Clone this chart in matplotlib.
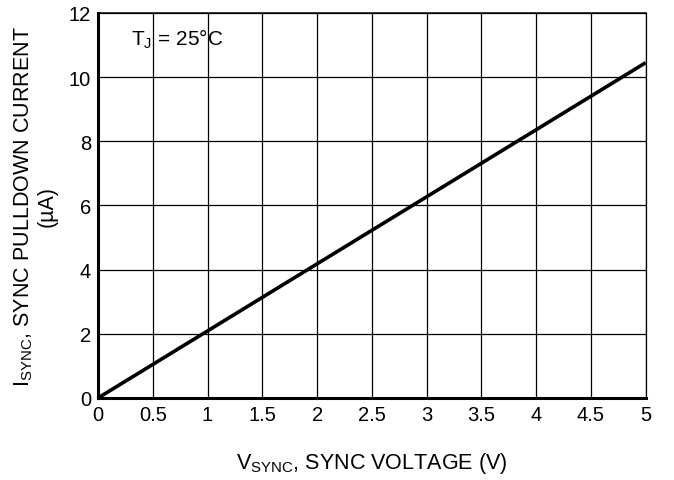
import numpy as np
import matplotlib.pyplot as plt

plt.rcParams['font.family'] = ['Liberation Sans', 'DejaVu Sans']

# sync voltage (V) vs pulldown current (uA), T_J = 25C
v_sync = [0, 1, 2, 3, 4, 5]
i_sync = [0, 2.09, 4.18, 6.27, 8.36, 10.45]

fig = plt.figure(figsize=(6.74, 4.81), dpi=100)
ax = fig.add_axes([0.1454, 0.1705, 0.958 - 0.1454, 0.971 - 0.1705])

ax.plot(v_sync, i_sync, color='black', linewidth=2.6, solid_capstyle='butt', zorder=3)

ax.set_xlim(0, 5)
ax.set_ylim(0, 12)
ax.set_xticks(np.arange(0, 5.01, 0.5))
ax.set_xticklabels(['0', '0.5', '1', '1.5', '2', '2.5', '3', '3.5', '4', '4.5', '5'])
ax.set_yticks(range(0, 13, 2))
ax.grid(True, color='black', linewidth=0.9)
ax.tick_params(length=0, labelsize=14.5, pad=5)

for side in ['left', 'bottom']:
    ax.spines[side].set_linewidth(2.2)
ax.spines['top'].set_linewidth(1.1)
ax.spines['right'].set_linewidth(0.9)

ax.text(0.3, 11.2, r'T$_\mathregular{J}$ = 25°C', fontsize=15, ha='left', va='center')

ax.set_xlabel(r'V$_\mathregular{SYNC}$, SYNC VOLTAGE (V)', fontsize=15.5, labelpad=19)
ax.set_ylabel('I$_\\mathregular{SYNC}$, SYNC PULLDOWN CURRENT\n(µA)', fontsize=15.5, labelpad=8, linespacing=1.1)

fig.savefig('out.png', dpi=100)
